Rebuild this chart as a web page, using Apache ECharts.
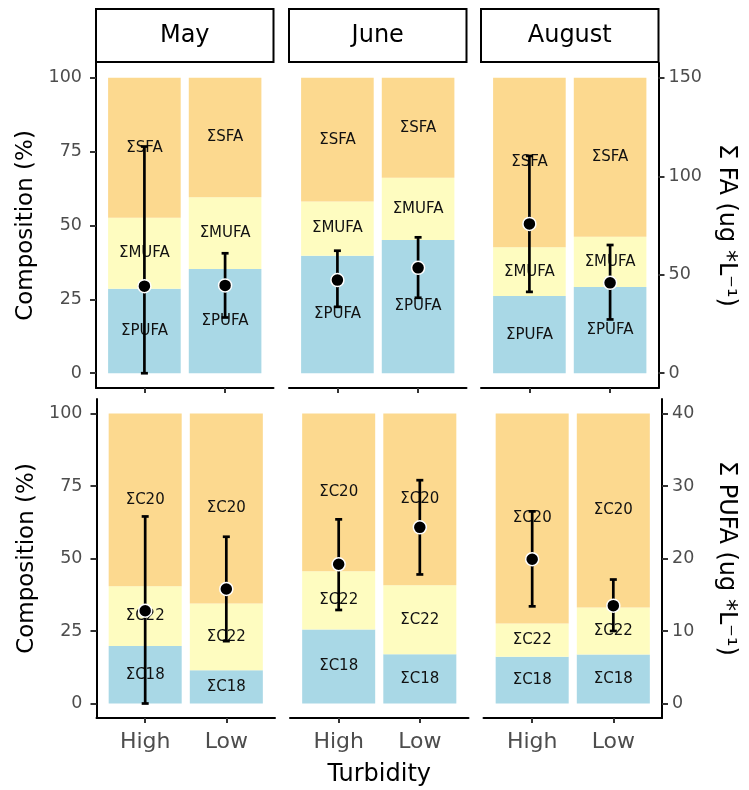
<!DOCTYPE html>
<html>
<head>
<meta charset="utf-8">
<script src="https://cdn.jsdelivr.net/npm/echarts@6/dist/echarts.min.js"></script>
<style>
  html, body { margin: 0; padding: 0; background: #ffffff; }
  #chart { width: 749px; height: 790px; }
</style>
</head>
<body>
<div id="chart"></div>
<script>
// ---- data ----------------------------------------------------------------
const months = ['May', 'June', 'August'];
const turbidity = ['High', 'Low'];
const percentTicks = [0, 25, 50, 75, 100];
const faTicks = [0, 50, 100, 150];
const pufaTicks = [0, 10, 20, 30, 40];

// fatty-acid class composition (%), per month: [High, Low]
const faPUFA = [[28.6, 35.3], [39.8, 45.1], [26.1, 29.2]];
const faMUFA = [[24.0, 24.3], [18.3, 21.1], [16.5, 17.0]];
const faSFA  = [[47.4, 40.4], [41.9, 33.8], [57.4, 53.8]];

// PUFA chain-length composition (%), per month: [High, Low]
const pufaC18 = [[19.8, 11.5], [25.5, 17.0], [16.1, 16.9]];
const pufaC22 = [[20.6, 23.0], [20.1, 23.8], [11.5, 16.2]];
const pufaC20 = [[59.6, 65.5], [54.4, 59.2], [72.4, 66.9]];

// total FA (ug/L): mean with lower / upper error limits
const faMean  = [[44.2, 44.6], [47.3, 53.5], [75.8, 45.9]];
const faLower = [[0.0, 28.3], [33.7, 38.3], [41.3, 27.3]];
const faUpper = [[115.1, 60.9], [62.2, 69.0], [110.3, 65.1]];

// total PUFA (ug/L): mean with lower / upper error limits
const pufaMean  = [[12.8, 15.8], [19.2, 24.3], [19.9, 13.5]];
const pufaLower = [[0.0, 8.6], [12.9, 17.8], [13.4, 10.0]];
const pufaUpper = [[25.8, 23.0], [25.4, 30.8], [26.5, 17.1]];

// ---- styling / layout -----------------------------------------------------
const FONT = 'DejaVu Sans';
const COL_ORANGE = '#FCD98F';
const COL_YELLOW = '#FEFCC0';
const COL_BLUE = '#A9D8E6';
const AXIS_GREY = '#4d4d4d';

const rows = [
  {
    top: 63, height: 325, lefts: [96, 289, 481], width: 177.5,
    segments: [
      { name: 'ΣPUFA', color: COL_BLUE, values: faPUFA },
      { name: 'ΣMUFA', color: COL_YELLOW, values: faMUFA },
      { name: 'ΣSFA', color: COL_ORANGE, values: faSFA }
    ],
    secTicks: faTicks, mean: faMean, lower: faLower, upper: faUpper,
    secName: 'Σ FA (ug *L⁻¹)', secGap: 56
  },
  {
    top: 399, height: 319, lefts: [96.5, 290, 483.5], width: 178.5,
    segments: [
      { name: 'ΣC18', color: COL_BLUE, values: pufaC18 },
      { name: 'ΣC22', color: COL_YELLOW, values: pufaC22 },
      { name: 'ΣC20', color: COL_ORANGE, values: pufaC20 }
    ],
    secTicks: pufaTicks, mean: pufaMean, lower: pufaLower, upper: pufaUpper,
    secName: 'Σ PUFA (ug *L⁻¹)', secGap: 52
  }
];

// discrete x scale: categories at 1..n, expanded by 0.6 on each side
const X_MIN = 0.4, X_MAX = turbidity.length + 0.6;
const BAR_HALF = 0.45;

const lineStyle = { color: '#000', width: 2 };
const tickStyle = { color: '#333', width: 2 };

// one stacked segment: data item = [x, base, top]
function makeSegmentRenderer(seg) {
  return function (params, api) {
    const x = api.value(0);
    const p0 = api.coord([x - BAR_HALF, api.value(2)]);
    const p1 = api.coord([x + BAR_HALF, api.value(1)]);
    return {
      type: 'group',
      children: [
        {
          type: 'rect', z2: 1,
          shape: { x: p0[0], y: p0[1], width: p1[0] - p0[0], height: p1[1] - p0[1] },
          style: { fill: seg.color }
        },
        {
          type: 'text', z2: 2,
          x: (p0[0] + p1[0]) / 2, y: (p0[1] + p1[1]) / 2,
          style: {
            text: seg.name, textAlign: 'center', textVerticalAlign: 'middle',
            fontSize: 15, fontFamily: FONT, fill: '#111'
          }
        }
      ]
    };
  };
}

function renderErrorBar(params, api) {
  const x = api.value(0);
  const lo = api.coord([x, api.value(1)]);
  const hi = api.coord([x, api.value(2)]);
  const cap = 3.5;
  const style = { stroke: '#000', lineWidth: 2.7, fill: null };
  return {
    type: 'group',
    children: [
      { type: 'line', shape: { x1: lo[0], y1: lo[1], x2: hi[0], y2: hi[1] }, style },
      { type: 'line', shape: { x1: lo[0] - cap, y1: lo[1], x2: lo[0] + cap, y2: lo[1] }, style },
      { type: 'line', shape: { x1: hi[0] - cap, y1: hi[1], x2: hi[0] + cap, y2: hi[1] }, style }
    ]
  };
}

const grids = [], xAxes = [], yAxes = [], secAxes = [], series = [], graphics = [];
const nPanels = rows.length * months.length;

rows.forEach((row, r) => {
  months.forEach((month, c) => {
    const g = r * months.length + c;
    const secIdx = nPanels + g;
    grids.push({
      left: row.lefts[c], top: row.top, width: row.width, height: row.height,
      containLabel: false, outerBoundsMode: 'none'
    });

    const isBottom = r === rows.length - 1;
    xAxes.push({
      type: 'value', gridIndex: g, min: X_MIN, max: X_MAX,
      axisLine: { show: true, onZero: false, lineStyle },
      axisTick: { show: true, customValues: turbidity.map((t, i) => i + 1), length: 5, lineStyle: tickStyle },
      axisLabel: {
        show: isBottom, customValues: turbidity.map((t, i) => i + 1),
        formatter: v => turbidity[Math.round(v) - 1] || '',
        color: AXIS_GREY, fontSize: 22, fontFamily: FONT, margin: 13
      },
      splitLine: { show: false },
      name: (isBottom && c === 1) ? 'Turbidity' : '',
      nameLocation: 'middle', nameGap: 45,
      nameTextStyle: { color: '#000', fontSize: 24, fontFamily: FONT }
    });

    const first = c === 0;
    yAxes.push({
      type: 'value', gridIndex: g, position: 'left', min: -5, max: 105,
      axisLine: { show: first, onZero: false, lineStyle },
      axisTick: { show: first, customValues: percentTicks, length: 6, lineStyle: tickStyle },
      axisLabel: {
        show: first, customValues: percentTicks,
        color: AXIS_GREY, fontSize: 17.5, fontFamily: FONT, margin: 14
      },
      splitLine: { show: false },
      name: first ? 'Composition (%)' : '',
      nameLocation: 'middle', nameGap: 58,
      nameTextStyle: { color: '#000', fontSize: 23, fontFamily: FONT }
    });

    const last = c === months.length - 1;
    const secTop = row.secTicks[row.secTicks.length - 1];
    secAxes.push({
      type: 'value', gridIndex: g, position: 'right',
      min: -0.05 * secTop, max: 1.05 * secTop,
      show: last,
      axisLine: { show: true, onZero: false, lineStyle },
      axisTick: { show: true, customValues: row.secTicks, length: 6, lineStyle: tickStyle },
      axisLabel: {
        show: true, customValues: row.secTicks,
        color: AXIS_GREY, fontSize: 17.5, fontFamily: FONT, margin: 10
      },
      splitLine: { show: false },
      name: row.secName, nameLocation: 'middle', nameRotate: -90, nameGap: row.secGap,
      nameTextStyle: { color: '#000', fontSize: 24, fontFamily: FONT }
    });

    // stacked composition bars, bottom segment first
    const base = turbidity.map(() => 0);
    row.segments.forEach(seg => {
      const data = turbidity.map((t, i) => {
        const y0 = base[i];
        const y1 = y0 + seg.values[c][i];
        base[i] = y1;
        return [i + 1, y0, y1];
      });
      series.push({
        type: 'custom', xAxisIndex: g, yAxisIndex: g, z: 2, silent: true,
        renderItem: makeSegmentRenderer(seg),
        encode: { x: 0, y: [1, 2] },
        data
      });
    });

    series.push({
      type: 'custom', xAxisIndex: g, yAxisIndex: secIdx, z: 5, silent: true,
      renderItem: renderErrorBar,
      encode: { x: 0, y: [1, 2] },
      data: turbidity.map((t, i) => [i + 1, row.lower[c][i], row.upper[c][i]])
    });

    series.push({
      type: 'scatter', xAxisIndex: g, yAxisIndex: secIdx, z: 6, silent: true,
      symbol: 'circle', symbolSize: 13,
      itemStyle: { color: '#000', borderColor: '#fff', borderWidth: 1.5, opacity: 1 },
      data: turbidity.map((t, i) => [i + 1, row.mean[c][i]])
    });
  });
});

// facet strips above the top row
const stripTop = 9, stripHeight = rows[0].top - 1 - stripTop;
months.forEach((month, c) => {
  const left = rows[0].lefts[c], w = rows[0].width;
  graphics.push({
    type: 'rect',
    shape: { x: left, y: stripTop, width: w, height: stripHeight },
    style: { fill: '#fff', stroke: '#000', lineWidth: 2 }
  });
  graphics.push({
    type: 'text', x: left + w / 2, y: stripTop + stripHeight / 2,
    style: {
      text: month, textAlign: 'center', textVerticalAlign: 'middle',
      fontSize: 24, fontFamily: FONT, fill: '#000'
    }
  });
});

const chart = echarts.init(document.getElementById('chart'), null, { renderer: 'canvas' });
chart.setOption({
  animation: false,
  backgroundColor: '#fff',
  textStyle: { fontFamily: FONT },
  grid: grids,
  xAxis: xAxes,
  yAxis: yAxes.concat(secAxes),
  series,
  graphic: graphics
});
</script>
</body>
</html>
